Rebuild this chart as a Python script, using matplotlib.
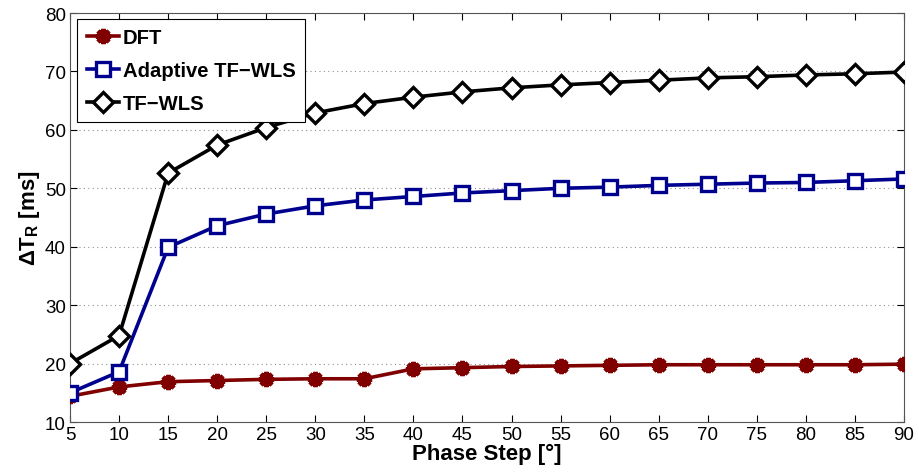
import matplotlib
matplotlib.use("Agg")
import matplotlib.pyplot as plt

plt.rcParams['font.family'] = ['Liberation Sans', 'DejaVu Sans']
plt.rcParams['mathtext.fontset'] = 'custom'
plt.rcParams['mathtext.rm'] = 'Liberation Sans'
plt.rcParams['mathtext.bf'] = 'Liberation Sans:bold'
plt.rcParams['mathtext.it'] = 'Liberation Sans:italic'

phase_step = [5, 10, 15, 20, 25, 30, 35, 40, 45, 50, 55, 60, 65, 70, 75, 80, 85, 90]
dft = [14.4, 16.0, 16.9, 17.1, 17.3, 17.4, 17.4, 19.1, 19.3, 19.5, 19.6, 19.7, 19.8, 19.8, 19.8, 19.8, 19.8, 19.9]
adaptive = [15.0, 18.6, 39.9, 43.6, 45.6, 47.0, 48.0, 48.6, 49.2, 49.6, 50.0, 50.2, 50.5, 50.7, 50.9, 51.0, 51.3, 51.6]
tfwls = [20.0, 24.8, 52.6, 57.4, 60.4, 62.9, 64.5, 65.6, 66.5, 67.2, 67.7, 68.1, 68.5, 68.9, 69.1, 69.4, 69.6, 69.9]
series_labels = ['DFT', 'Adaptive TF\u2212WLS', 'TF\u2212WLS']
xticks = list(range(5, 95, 5))
yticks = list(range(10, 90, 10))

fig = plt.figure(figsize=(9.19, 4.77), dpi=100)
ax = fig.add_axes([0.0762, 0.1132, 0.9075, 0.8574])

ax.plot(phase_step, dft, color='#800000', lw=2.6, marker=(8, 2, 0), ms=11, mew=3.2,
        mec='#800000', label=series_labels[0], zorder=3)
ax.plot(phase_step, adaptive, color='#00008f', lw=2.6, marker='s', ms=10, mew=2.4,
        mfc='white', mec='#00008f', label=series_labels[1], zorder=4)
ax.plot(phase_step, tfwls, color='black', lw=2.6, marker='D', ms=10, mew=2.4,
        mfc='white', mec='black', label=series_labels[2], zorder=5)

ax.set_xlim(5, 90)
ax.set_ylim(10, 80)
ax.set_xticks(xticks)
ax.set_yticks(yticks)
ax.tick_params(direction='in', top=True, right=True, labelsize=13.5, length=5, width=0.8,
               pad=3)
ax.yaxis.grid(True, linestyle=(0, (1, 3)), color='#909090', lw=0.8)
for s in ax.spines.values():
    s.set_linewidth(0.8)
    s.set_color('#555555')

ax.set_xlabel('Phase Step [\u00b0]', fontsize=16, fontweight='bold', labelpad=0)
ax.set_ylabel(r'$\mathbf{\Delta T_R}$ [ms]', fontsize=16, fontweight='bold', labelpad=2)

leg = ax.legend(loc='upper left', bbox_to_anchor=(0.004, 0.995), prop={'weight': 'bold', 'size': 14.6},
                frameon=True, fancybox=False, edgecolor='black', framealpha=1,
                handlelength=1.6, borderpad=0.45, labelspacing=0.68, handletextpad=0.2,
                borderaxespad=0.2)
leg.get_frame().set_linewidth(0.8)

fig.savefig('out.png', dpi=100)
